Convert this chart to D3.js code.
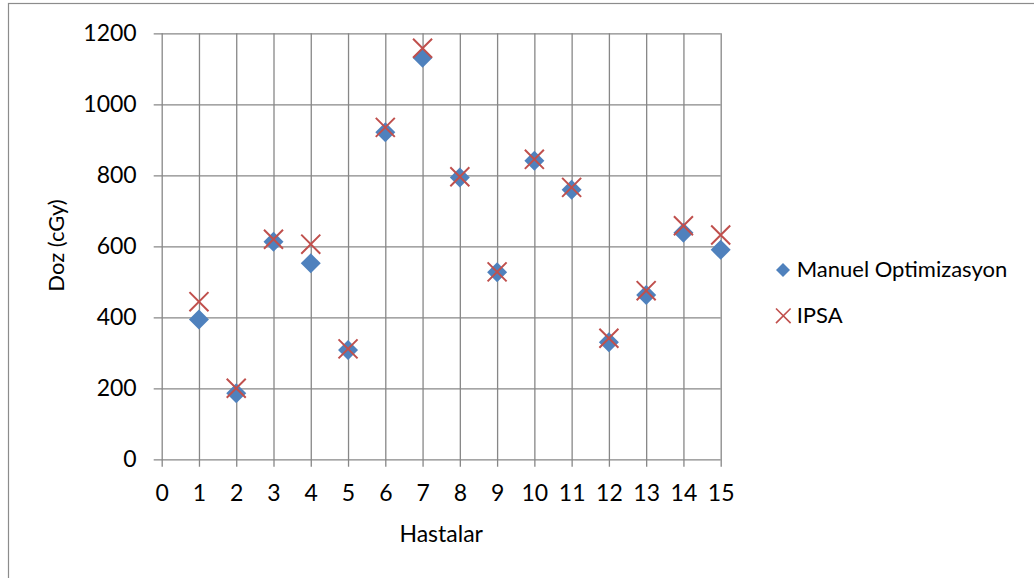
<!DOCTYPE html>
<html>
<head>
<meta charset="utf-8">
<script src="https://cdn.jsdelivr.net/npm/d3@7"></script>
<style>
  body { margin: 0; background: #fff; }
  text { font-family: Lato, "Open Sans", sans-serif; fill: #000; }
</style>
</head>
<body>
<svg id="chart"></svg>
<script>
// data
var hastalar = [1, 2, 3, 4, 5, 6, 7, 8, 9, 10, 11, 12, 13, 14, 15];
var manuel = [394, 186, 613, 552, 308, 921, 1131, 794, 527, 841, 759, 330, 463, 638, 590];
var ipsa = [444, 200, 620, 606, 311, 935, 1158, 796, 528, 845, 766, 341, 475, 658, 632];
var xTicks = d3.range(0, 16);
var yTicks = [0, 200, 400, 600, 800, 1000, 1200];
var seriesNames = ["Manuel Optimizasyon", "IPSA"];

var width = 1034
var height = 578
// plot area edges (don't call these "top", window.top is taken)
var plotLeft = 161.7, plotRight = 720.7, plotTop = 33.3, plotBottom = 459.3

var svg = d3.select("#chart")
  .attr("width", width)
  .attr("height", height);

// chart border (runs off the right and bottom edge like the original)
svg.append("rect")
  .attr("x", 8.5)
  .attr("y", 3.5)
  .attr("width", 1100)
  .attr("height", 700)
  .attr("fill", "none")
  .attr("stroke", "#8c8c8c")
  .attr("stroke-width", 1.2);

var x = d3.scaleLinear()
  .domain([0, 15])
  .range([plotLeft, plotRight]);

var y = d3.scaleLinear()
  .domain([0, 1200])
  .range([plotBottom, plotTop]);

// y axis + horizontal grid
svg.append("g")
  .attr("class", "yAxis")
  .attr("transform", "translate(" + (plotLeft - 8) + ",0)")
  .call(d3.axisLeft(y)
    .tickValues(yTicks)
    .tickFormat(d3.format("d"))
    .tickSizeInner(-(plotRight - plotLeft + 8))
    .tickSizeOuter(0)
    .tickPadding(17));

// x axis + vertical grid
svg.append("g")
  .attr("class", "xAxis")
  .attr("transform", "translate(0," + (plotBottom + 7.4) + ")")
  .call(d3.axisBottom(x)
    .tickValues(xTicks)
    .tickFormat(d3.format("d"))
    .tickSizeInner(-(plotBottom + 7.4 - plotTop))
    .tickSizeOuter(0)
    .tickPadding(18));

svg.selectAll(".domain").remove();
svg.selectAll(".tick line")
  .attr("stroke", "#878787")
  .attr("stroke-width", 1.3);
svg.selectAll(".tick text")
  .style("font-size", "23px")
  .attr("fill", "#000");

// axis titles
svg.append("text")
  .attr("transform", "translate(64," + 245.5 + ") rotate(-90)")
  .style("text-anchor", "middle")
  .style("font-size", "22px")
  .text("Doz (cGy)");

svg.append("text")
  .attr("x", (plotLeft + plotRight) / 2)
  .attr("y", 541.7)
  .style("text-anchor", "middle")
  .style("font-size", "23px")
  .text("Hastalar");

var diamond = d3.symbol().type(d3.symbolSquare).size(200);
var cross = d3.symbol().type(d3.symbolX).size(238);

// Manuel Optimizasyon diamonds
svg.selectAll(".manuel")
  .data(manuel)
  .enter()
  .append("path")
  .attr("class", "manuel")
  .attr("d", diamond)
  .attr("fill", "#4f81bd")
  .attr("transform", function(d, i) {
    return "translate(" + x(hastalar[i]) + "," + y(d) + ") rotate(45)";
  });

// IPSA crosses
svg.selectAll(".ipsa")
  .data(ipsa)
  .enter()
  .append("path")
  .attr("class", "ipsa")
  .attr("d", cross)
  .attr("fill", "none")
  .attr("stroke", "#c0504d")
  .attr("stroke-width", 2)
  .attr("transform", function(d, i) {
    return "translate(" + x(hastalar[i]) + "," + y(d) + ")";
  });

// legend
var legend = svg.append("g")
  .attr("class", "legend")
  .attr("transform", "translate(783,0)");

legend.append("path")
  .attr("d", d3.symbol().type(d3.symbolSquare).size(98))
  .attr("fill", "#4f81bd")
  .attr("transform", "translate(0,270) rotate(45)");

legend.append("path")
  .attr("d", d3.symbol().type(d3.symbolX).size(141))
  .attr("fill", "none")
  .attr("stroke", "#c0504d")
  .attr("stroke-width", 1.6)
  .attr("transform", "translate(0.3,315.8)");

legend.selectAll(".legText")
  .data(seriesNames)
  .enter()
  .append("text")
  .attr("class", "legText")
  .attr("x", 13.7)
  .attr("y", function(d, i) { return 276.7 + i * 46; })
  .style("font-size", "22px")
  .text(function(d) { return d; });
</script>
</body>
</html>
